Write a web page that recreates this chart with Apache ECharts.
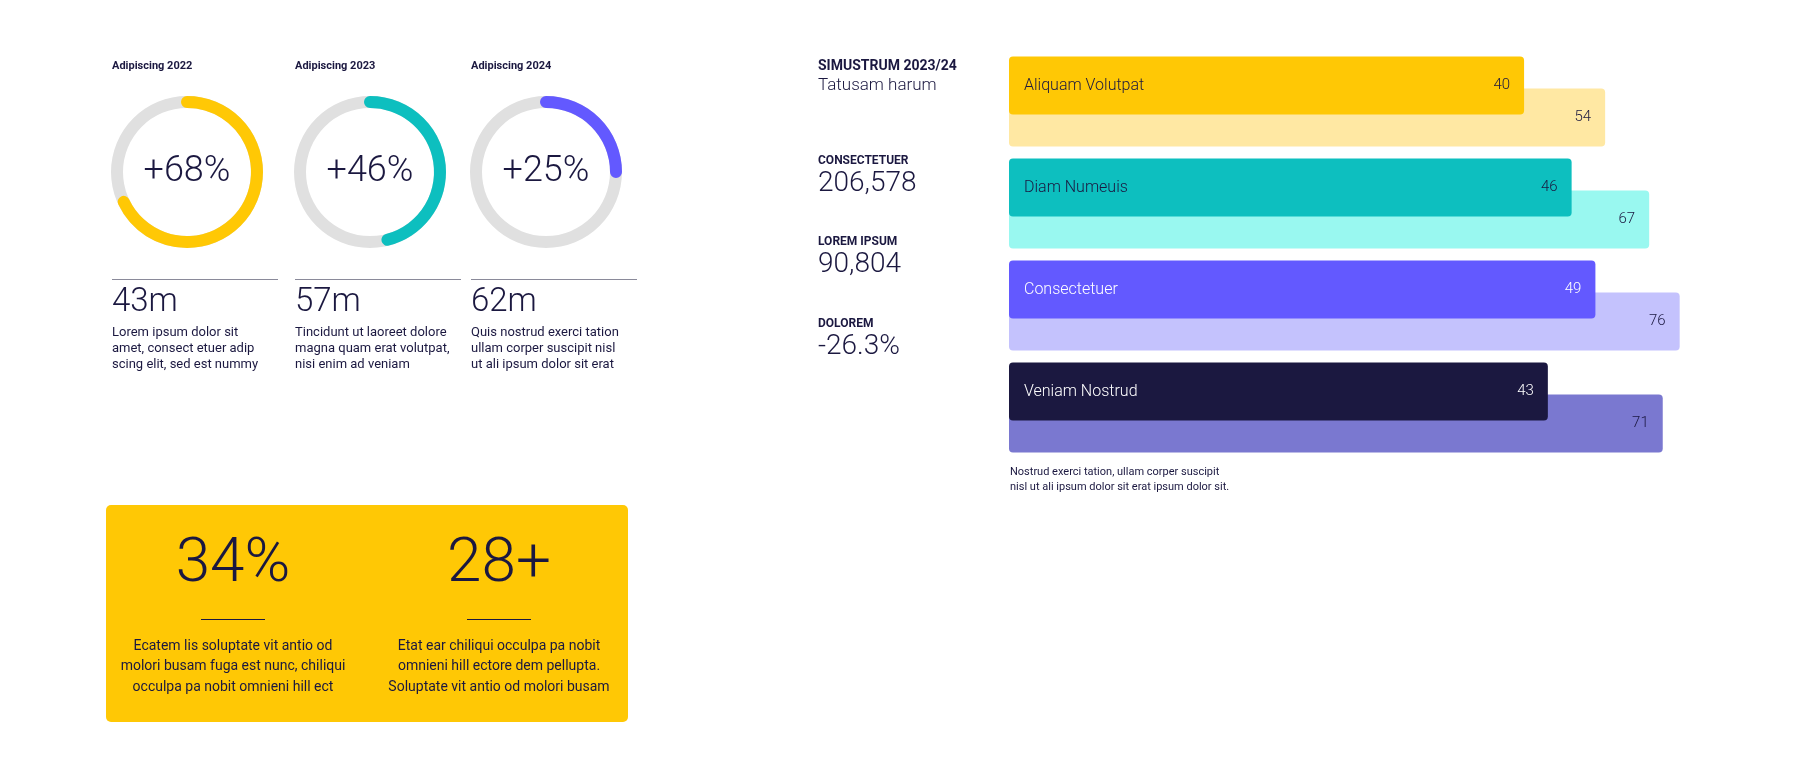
<!DOCTYPE html>
<html><head><meta charset="utf-8">
<script src="https://cdn.jsdelivr.net/npm/echarts@6/dist/echarts.min.js"></script>
<style>html,body{margin:0;background:#fff}#c{width:1800px;height:765px}</style>
</head><body><div id="c"></div>
<script>
const donutTitles = ['Adipiscing 2022','Adipiscing 2023','Adipiscing 2024'];
const donutValues = [68, 46, 25];
const donutColors = ['#FFC805','#0DBFBF','#6359FF'];
const donutBig = ['43m','57m','62m'];
const donutText = [
 ['Lorem ipsum dolor sit','amet, consect etuer adip','scing elit, sed est nummy'],
 ['Tincidunt ut laoreet dolore','magna quam erat volutpat,','nisi enim ad veniam'],
 ['Quis nostrud exerci tation','ullam corper suscipit nisl','ut ali ipsum dolor sit erat']];
const barCategories = ['Aliquam Volutpat','Diam Numeuis','Consectetuer','Veniam Nostrud'];
const barPrimary = [40, 46, 49, 43];
const barSecondary = [54, 67, 76, 71];
const primaryColors = ['#FFC805','#0DBFBF','#6359FF','#1B1840'];
const secondaryColors = ['#FFE8A3','#99F8F0','#C4C2FD','#7A78D0'];
const primaryText = ['#1B1840','#1B1840','#ffffff','#ffffff'];
const statLabels = ['CONSECTETUER','LOREM IPSUM','DOLOREM'];
const statValues = ['206,578','90,804','-26.3%'];
const boxBig = ['34%','28+'];
const boxText = [
 ['Ecatem lis soluptate vit antio od','molori busam fuga est nunc, chiliqui','occulpa pa nobit omnieni hill ect'],
 ['Etat ear chiliqui occulpa pa nobit','omnieni hill ectore dem pellupta.','Soluptate vit antio od molori busam']];

const INK = '#1B1840';
const FF = 'Roboto, "Liberation Sans", sans-serif';
const chart = echarts.init(document.getElementById('c'));
const centersX = [187, 370, 546];
const colX = [112, 295, 471];
const graphic = [];
const polar = [], angleAxis = [], radiusAxis = [], series = [];

donutValues.forEach((v,i)=>{
  polar.push({center:[centersX[i],172], radius:[60,80]});
  angleAxis.push({polarIndex:i,max:100,startAngle:90,clockwise:true,show:false});
  radiusAxis.push({polarIndex:i,type:'category',data:['a'],show:false});
  series.push({type:'bar',coordinateSystem:'polar',polarIndex:i,data:[v],barWidth:12,roundCap:true,
    showBackground:true,backgroundStyle:{color:'#E0E0E0'},itemStyle:{color:donutColors[i]},z:3});
  graphic.push({type:'text',left:colX[i],top:61,style:{text:donutTitles[i],font:'bold 11px '+FF,fill:INK}});
  graphic.push({type:'text',x:centersX[i],y:172,style:{text:'+'+v+'%',font:'300 36px '+FF,fill:INK,align:'center',verticalAlign:'middle'}});
  graphic.push({type:'rect',shape:{x:colX[i],y:279,width:166,height:1},style:{fill:'#8a8a9a'}});
  graphic.push({type:'text',left:colX[i],top:286,style:{text:donutBig[i],font:'300 33px '+FF,fill:INK}});
  donutText[i].forEach((t,j)=>graphic.push({type:'text',left:colX[i],top:326+j*16,style:{text:t,font:'13px '+FF,fill:INK}}));
});

graphic.push({type:'text',left:818,top:59,style:{text:'SIMUSTRUM 2023/24',font:'bold 14px '+FF,fill:INK}});
graphic.push({type:'text',left:818,top:77,style:{text:'Tatusam harum',font:'300 17px '+FF,fill:INK}});
const statTop=[155,236,318];
statLabels.forEach((l,i)=>{
  graphic.push({type:'text',left:818,top:statTop[i],style:{text:l,font:'bold 12px '+FF,fill:INK}});
  graphic.push({type:'text',left:818,top:statTop[i]+15,style:{text:statValues[i],font:'300 28px '+FF,fill:INK}});
});
graphic.push({type:'text',left:1010,top:465,style:{text:'Nostrud exerci tation, ullam corper suscipit\nnisl ut ali ipsum dolor sit erat ipsum dolor sit.',font:'11px '+FF,fill:INK,lineHeight:15}});

graphic.push({type:'rect',shape:{x:106,y:505,width:522,height:217,r:5},style:{fill:'#FFC805'},z:0});
const boxCx=[233,499];
boxBig.forEach((b,i)=>{
  graphic.push({type:'text',x:boxCx[i],y:565,style:{text:b,font:'300 62px '+FF,fill:INK,align:'center',verticalAlign:'middle'},z:1});
  graphic.push({type:'rect',shape:{x:boxCx[i]-32,y:619,width:64,height:1},style:{fill:INK},z:1});
  boxText[i].forEach((t,j)=>graphic.push({type:'text',x:boxCx[i],y:646+j*20.5,style:{text:t,font:'14px '+FF,fill:INK,align:'center',verticalAlign:'middle'},z:1}));
});

const axMin=[-25,-122];
const grid=[{left:1009,width:691,top:34.5,height:408},{left:1009,width:691,top:66.5,height:408}];
const xAxis=[{gridIndex:0,type:'value',min:axMin[0],max:62.2,show:false},{gridIndex:1,type:'value',min:axMin[1],max:82,show:false}];
const yAxis=[{gridIndex:0,type:'category',data:barCategories,inverse:true,show:false},{gridIndex:1,type:'category',data:barCategories,inverse:true,show:false}];
function makeRender(k, fills, texts, showName){
  return function(params, api){
    const v=api.value(0), idx=api.value(1);
    const s=api.coord([axMin[k], idx]), e=api.coord([v, idx]);
    const h=58, x=s[0], y=s[1]-h/2, w=e[0]-s[0];
    const children=[{type:'rect',shape:{x,y,width:w,height:h,r:4},style:{fill:fills[idx]}},
      {type:'text',style:{text:String(v),x:x+w-14,y:s[1],align:'right',verticalAlign:'middle',font:'300 15px '+FF,fill:texts[idx]}}];
    if(showName) children.push({type:'text',style:{text:barCategories[idx],x:x+15,y:s[1],verticalAlign:'middle',font:'300 16px '+FF,fill:texts[idx]}});
    return {type:'group',children};
  };
}
series.push({type:'custom',xAxisIndex:1,yAxisIndex:1,z:2,encode:{x:0,y:1},
  data:barSecondary.map((v,i)=>[v,i]),renderItem:makeRender(1,secondaryColors,[INK,INK,INK,INK],false)});
series.push({type:'custom',xAxisIndex:0,yAxisIndex:0,z:4,encode:{x:0,y:1},
  data:barPrimary.map((v,i)=>[v,i]),renderItem:makeRender(0,primaryColors,primaryText,true)});

chart.setOption({animation:false,polar,angleAxis,radiusAxis,grid,xAxis,yAxis,series,graphic});
</script></body></html>
